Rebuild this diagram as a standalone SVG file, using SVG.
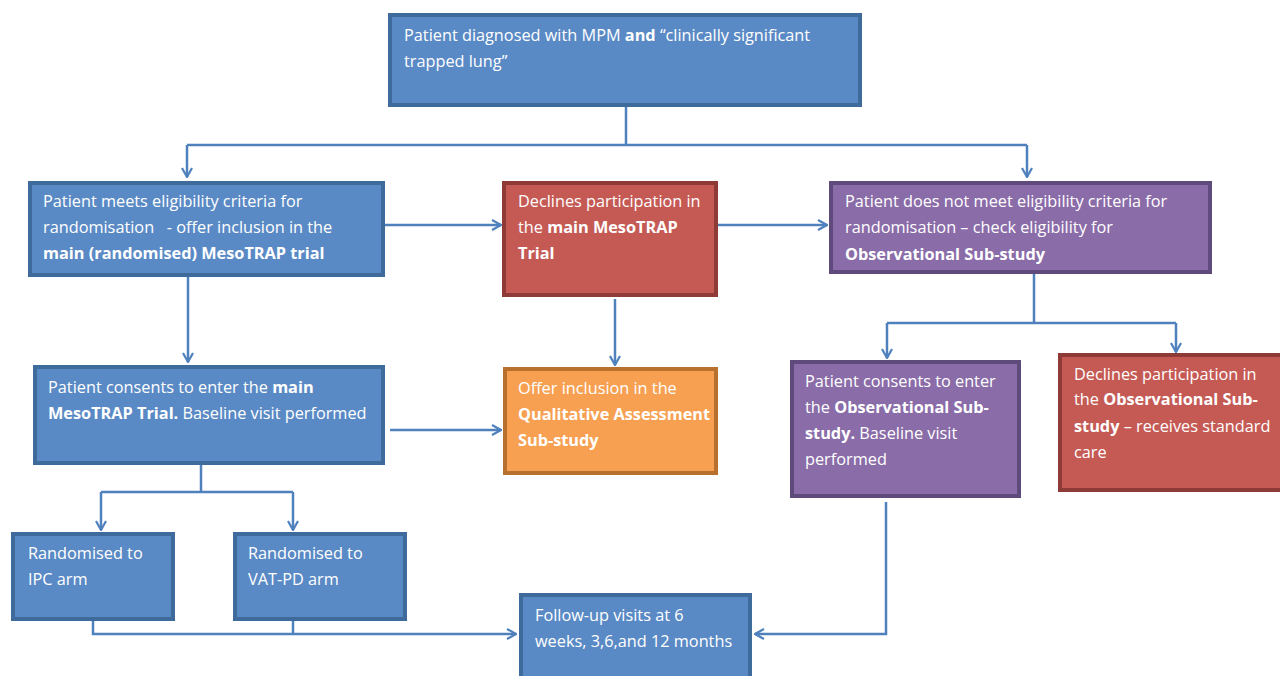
<svg xmlns="http://www.w3.org/2000/svg" width="1280" height="676" viewBox="0 0 1280 676">
<defs>
<style>
.box rect{stroke-width:4}
.blue rect{fill:#5a8ac5;stroke:#3e6b9c}
.red rect{fill:#c55a55;stroke:#8e3a37}
.purple rect{fill:#8a6ca8;stroke:#5f4a7c}
.orange rect{fill:#f7a052;stroke:#b8702f}
text{font-family:"Open Sans","Liberation Sans",Arial,sans-serif;font-size:16.3px;fill:#ffffff}
.b{font-weight:bold}
#connectors path{fill:none;stroke:#4f81bd;stroke-width:2.5}
</style>
<marker id="arr" viewBox="0 0 12 12" refX="11" refY="6" markerWidth="12" markerHeight="12" markerUnits="userSpaceOnUse" orient="auto">
<path d="M2,1 L11,6 L2,11" fill="none" stroke="#4f81bd" stroke-width="2.2"/>
</marker>
</defs>
<rect width="1280" height="676" fill="#ffffff"/>
<g id="connectors">
<path d="M626,107 V145 M187,145 H1027"/>
<path d="M187,145 V177" marker-end="url(#arr)"/>
<path d="M1027,145 V177" marker-end="url(#arr)"/>
<path d="M385,225 H501" marker-end="url(#arr)"/>
<path d="M718,225 H827" marker-end="url(#arr)"/>
<path d="M188,277 V362" marker-end="url(#arr)"/>
<path d="M390,430 H501" marker-end="url(#arr)"/>
<path d="M615,299 V365" marker-end="url(#arr)"/>
<path d="M1034,274 V323 M887,323 H1176"/>
<path d="M887,323 V358" marker-end="url(#arr)"/>
<path d="M1176,323 V352" marker-end="url(#arr)"/>
<path d="M201,465 V492 M101,492 H293"/>
<path d="M101,492 V530" marker-end="url(#arr)"/>
<path d="M293,492 V530" marker-end="url(#arr)"/>
<path d="M93,621 V634 H516" marker-end="url(#arr)"/>
<path d="M293,621 V634"/>
<path d="M886,502 V634 H755" marker-end="url(#arr)"/>
</g>
<g id="n-top" class="box blue">
<rect x="390" y="15" width="470" height="90"/>
<text x="404" y="41">Patient diagnosed with MPM <tspan class="b">and</tspan> “clinically significant</text>
<text x="404" y="67">trapped lung”</text>
</g>
<g id="n-eligible" class="box blue">
<rect x="30" y="183" width="353" height="92"/>
<text x="43" y="207">Patient meets eligibility criteria for</text>
<text x="43" y="233" xml:space="preserve">randomisation   - offer inclusion in the</text>
<text x="43" y="259" class="b">main (randomised) MesoTRAP trial</text>
</g>
<g id="n-declines-main" class="box red">
<rect x="504" y="183" width="212" height="112"/>
<text x="518" y="207">Declines participation in</text>
<text x="518" y="233">the <tspan class="b">main MesoTRAP</tspan></text>
<text x="518" y="259" class="b">Trial</text>
</g>
<g id="n-not-eligible" class="box purple">
<rect x="831" y="183" width="379" height="89"/>
<text x="845" y="207">Patient does not meet eligibility criteria for</text>
<text x="845" y="233">randomisation – check eligibility for</text>
<text x="845" y="260" class="b">Observational Sub-study</text>
</g>
<g id="n-consents-main" class="box blue">
<rect x="35" y="367" width="348" height="96"/>
<text x="48" y="393">Patient consents to enter the <tspan class="b">main</tspan></text>
<text x="48" y="419"><tspan class="b">MesoTRAP Trial.</tspan> Baseline visit performed</text>
</g>
<g id="n-qualitative" class="box orange">
<rect x="505" y="369" width="211" height="104"/>
<text x="518" y="394">Offer inclusion in the</text>
<text x="518" y="420" class="b">Qualitative Assessment</text>
<text x="518" y="446" class="b">Sub-study</text>
</g>
<g id="n-consents-obs" class="box purple">
<rect x="792" y="362" width="227" height="134"/>
<text x="805" y="387">Patient consents to enter</text>
<text x="805" y="413">the <tspan class="b">Observational Sub-</tspan></text>
<text x="805" y="439"><tspan class="b">study.</tspan> Baseline visit</text>
<text x="805" y="465">performed</text>
</g>
<g id="n-declines-obs" class="box red">
<rect x="1060" y="355" width="230" height="135"/>
<text x="1074" y="380">Declines participation in</text>
<text x="1074" y="405">the <tspan class="b">Observational Sub-</tspan></text>
<text x="1074" y="432"><tspan class="b">study</tspan> – receives standard</text>
<text x="1074" y="458">care</text>
</g>
<g id="n-ipc" class="box blue">
<rect x="13" y="534" width="160" height="85"/>
<text x="28" y="559">Randomised to</text>
<text x="28" y="585">IPC arm</text>
</g>
<g id="n-vatpd" class="box blue">
<rect x="235" y="534" width="170" height="85"/>
<text x="248" y="559">Randomised to</text>
<text x="248" y="585">VAT-PD arm</text>
</g>
<g id="n-followup" class="box blue">
<rect x="521" y="595" width="229" height="90"/>
<text x="535" y="621">Follow-up visits at 6</text>
<text x="535" y="647">weeks, 3,6,and 12 months</text>
</g>
</svg>
